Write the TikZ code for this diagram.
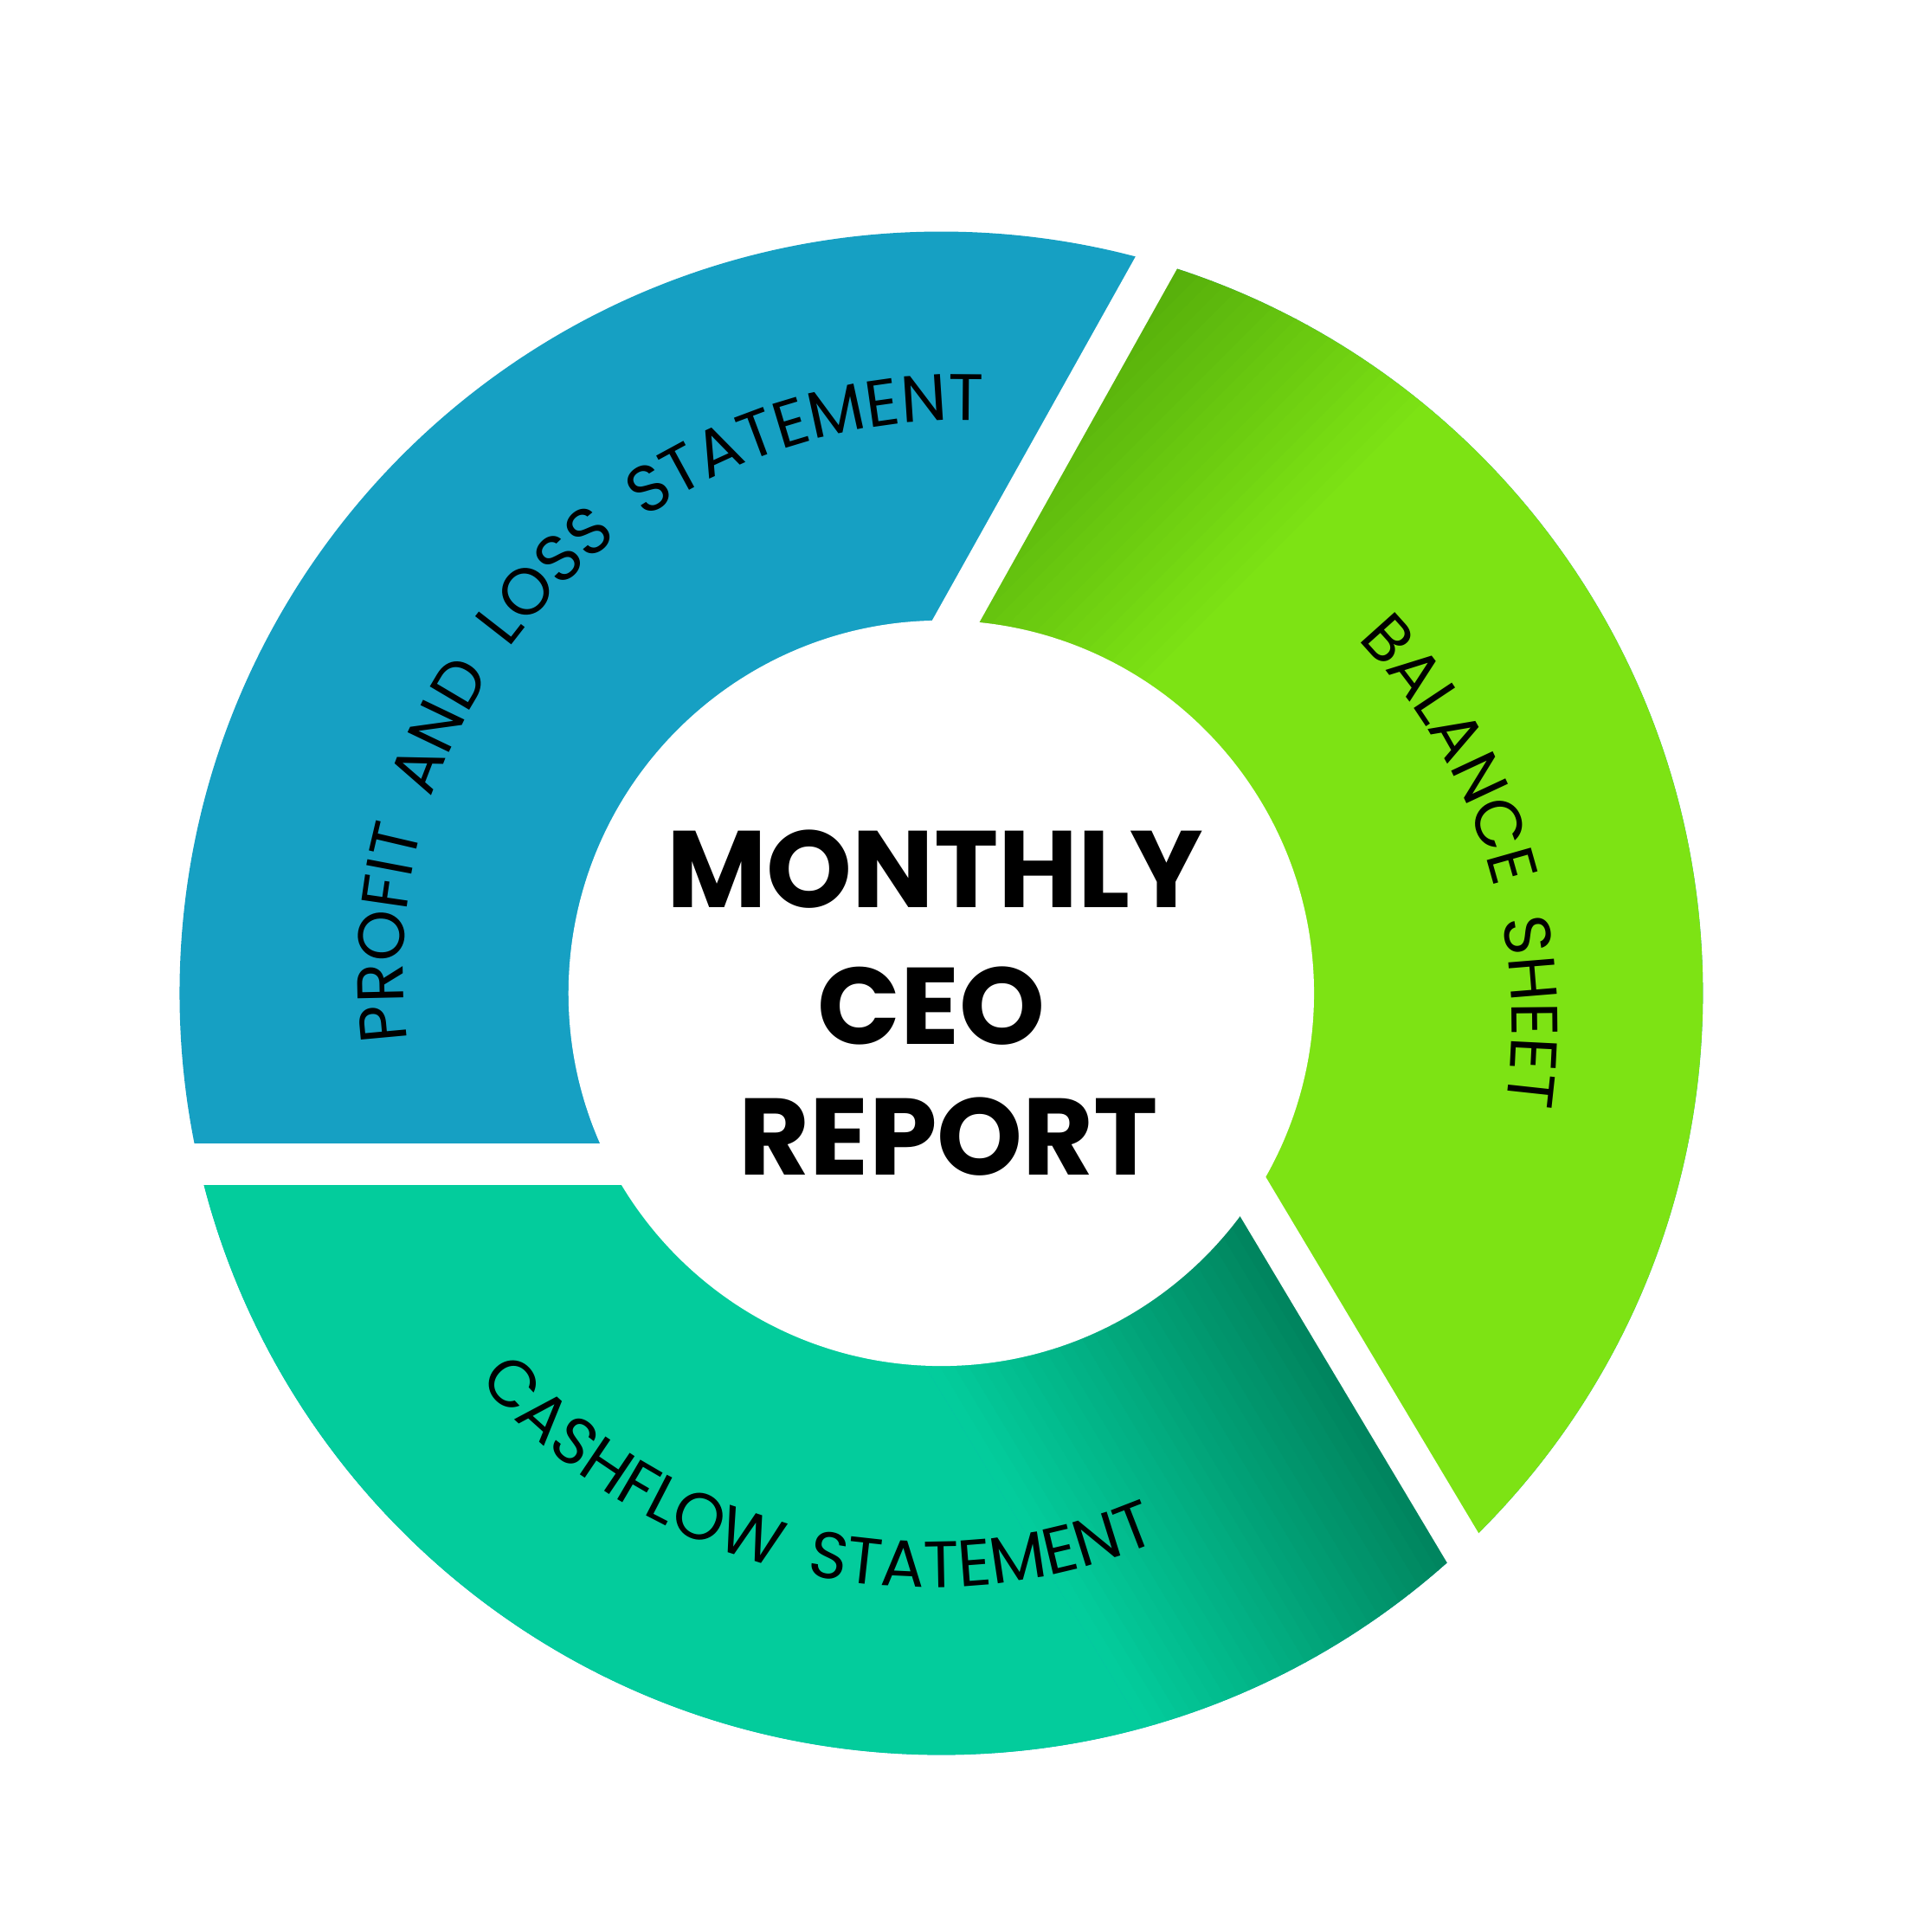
\documentclass[tikz,border=0pt]{standalone}
\usepackage{fontspec}
\setmainfont{Poppins}
\newfontfamily\arcfont{Poppins}[LetterSpace=22]
\usetikzlibrary{decorations.text}
\definecolor{pnlblue}{HTML}{16A0C3}
\definecolor{bslight}{HTML}{7DE314}
\definecolor{bsdark}{HTML}{479A08}
\definecolor{cflight}{HTML}{03CC9C}
\definecolor{cfdark}{HTML}{00805A}
\tikzset{
  gap/.style={white,line width=34,line cap=butt},
  arctext/.style={decorate,decoration={text along path,text align=center,
    text={|\arcfont\fontsize{53}{56}\selectfont|#1}}},
  title/.style={font=\fontsize{88}{100}\selectfont\bfseries,inner sep=0}
}
\begin{document}
\begin{tikzpicture}[x=1pt,y=1pt]
\useasboundingbox (0,0) rectangle (1560,1560);
\coordinate (c) at (760,758);

%Shape: outer disc (profit and loss)
\fill[pnlblue] (c) circle (615);
%Shape: balance sheet segment
\begin{scope}
\clip (c) circle (615);
\clip (1050,1556) -- (700,930) -- (996,620) -- (1255,186) -- (1600,186) -- (1600,1560) -- cycle;
\begin{scope}[shift={(820,1260)},rotate=-45]
\fill[bsdark] (-900,-900) rectangle (-60,900);
\foreach \i in {0,...,31}{
  \pgfmathtruncatemacro\p{100*\i/31}
  \fill[bslight!\p!bsdark] (-60+10*\i,-900) rectangle ++(10.6,1800);
}
\fill[bslight] (260,-900) rectangle (1500,900);
\end{scope}
\end{scope}
%Shape: cashflow segment
\begin{scope}
\clip (c) circle (615);
\clip (0,620) -- (996,620) -- (1255,186) -- (1255,0) -- (0,0) -- cycle;
\begin{scope}[shift={(1150,330)},rotate=31]
\fill[cflight] (-1500,-900) rectangle (-280,900);
\foreach \i in {0,...,29}{
  \pgfmathtruncatemacro\p{100*\i/29}
  \fill[cfdark!\p!cflight] (-280+10*\i,-900) rectangle ++(10.6,1800);
}
\fill[cfdark] (20,-900) rectangle (600,900);
\end{scope}
\end{scope}

%Straight Lines: gaps
\coordinate (g1a) at (1050,1556);
\coordinate (g1b) at (700,930);
\coordinate (g2a) at (100,620);
\coordinate (g2b) at (620,620);
\coordinate (g3a) at (996,620);
\coordinate (g3b) at (1290,128);
\draw[gap] (g1a) -- (g1b);
\draw[gap] (g2a) -- (g2b);
\draw[gap] (g3a) -- (g3b);
%Shape: inner hole
\fill[white] (c) circle (301);

% Arc texts
\path[shift={(c)},arctext={PROFIT AND LOSS STATEMENT}] plot[smooth,samples=40,domain=200:72] ({\x}:{428+40*(200-\x)/128});
\path[shift={(c)},arctext={BALANCE SHEET}] plot[smooth,samples=30,domain=54:-24] ({\x}:{435+36*(54-\x)/78});
\path[shift={(c)},arctext={CASHFLOW STATEMENT}] plot[smooth,samples=30,domain=206:306] ({\x}:{490-16*(\x-206)/100});

% Text Node
\node[title] (monthly) at (755,858) {MONTHLY};
\node[title] (ceo) at (752,748) {CEO};
\node[title] (report) at (766,642) {REPORT};
\end{tikzpicture}
\end{document}
